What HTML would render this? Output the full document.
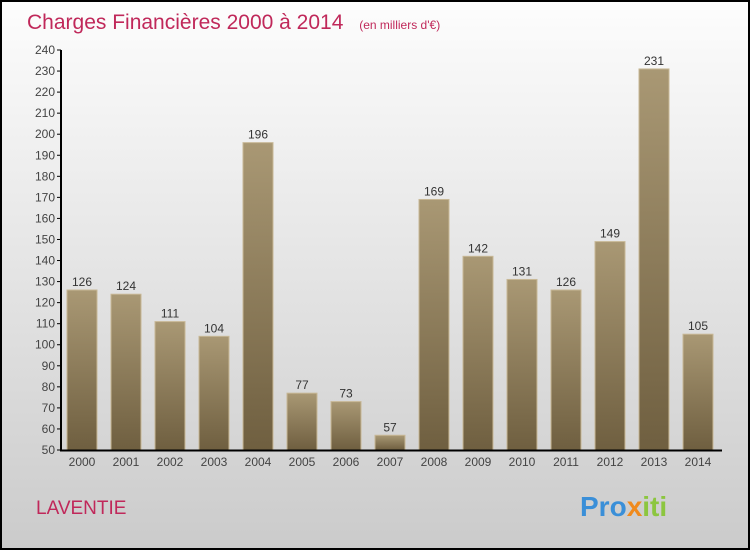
<!DOCTYPE html>
<html><head><meta charset="utf-8"><style>
body{margin:0;width:750px;height:550px;overflow:hidden;font-family:"Liberation Sans",sans-serif}
</style></head><body>
<svg id="c" width="750" height="550" xmlns="http://www.w3.org/2000/svg">
<defs>
<linearGradient id="bg" x1="0" y1="0" x2="0" y2="1"><stop offset="0" stop-color="#fdfdfd"/><stop offset="1" stop-color="#cbcbcb"/></linearGradient>
<linearGradient id="bar" x1="0" y1="0" x2="0" y2="1"><stop offset="0" stop-color="#a99874"/><stop offset="1" stop-color="#6f5f40"/></linearGradient>
</defs>
<rect x="1" y="1" width="748" height="548" fill="url(#bg)" stroke="#000" stroke-width="2"/>
<text x="27" y="29" font-size="21" fill="#c0285a">Charges Financières 2000 à 2014 <tspan font-size="12" dx="10">(en milliers d'€)</tspan></text>
<text x="36" y="514" font-size="19" fill="#c0285a">LAVENTIE</text>
<text x="580" y="516" font-size="28" font-weight="bold"><tspan fill="#3a8fd8">Pro</tspan><tspan fill="#f08a1c">x</tspan><tspan fill="#8cc63f">iti</tspan></text>
<g id="plot"></g>
</svg>
<script>
const categories=["2000","2001","2002","2003","2004","2005","2006","2007","2008","2009","2010","2011","2012","2013","2014"];
const values=[126,124,111,104,196,77,73,57,169,142,131,126,149,231,105];
const yTicks=[50,60,70,80,90,100,110,120,130,140,150,160,170,180,190,200,210,220,230,240];
const NS="http://www.w3.org/2000/svg";
const g=document.getElementById('plot');
const y=v=>450-(v-50)*400/190;
const x=i=>82+i*44;
function mk(t,a,txt){const e=document.createElementNS(NS,t);for(const k in a)e.setAttribute(k,a[k]);if(txt!=null)e.textContent=txt;g.appendChild(e);return e;}
yTicks.forEach(v=>{
 const l=mk('line',{x1:57,x2:61,y1:y(v),y2:y(v),stroke:'#000'});
 
 
 const t=mk('text',{x:55,y:y(v)+4,'font-size':12,'text-anchor':'end',fill:'#444'},v);
 
 
});
values.forEach((v,i)=>{
 const r=mk('rect',{x:x(i)-15,y:y(v),width:30,height:450-y(v),fill:'url(#bar)',stroke:'#c8b896','stroke-width':1});
 
 
 const t=mk('text',{x:x(i),y:y(v)-4,'font-size':12,'text-anchor':'middle',fill:'#333'},v);
 
 
 const c=mk('text',{x:x(i),y:466,'font-size':12,'text-anchor':'middle',fill:'#444'},categories[i]);
 
 
});
const ya=mk('line',{x1:61,x2:61,y1:50,y2:451,stroke:'#000','stroke-width':2});


const xa=mk('line',{x1:60,x2:722,y1:450.5,y2:450.5,stroke:'#000','stroke-width':2});


</script>
</body></html>
